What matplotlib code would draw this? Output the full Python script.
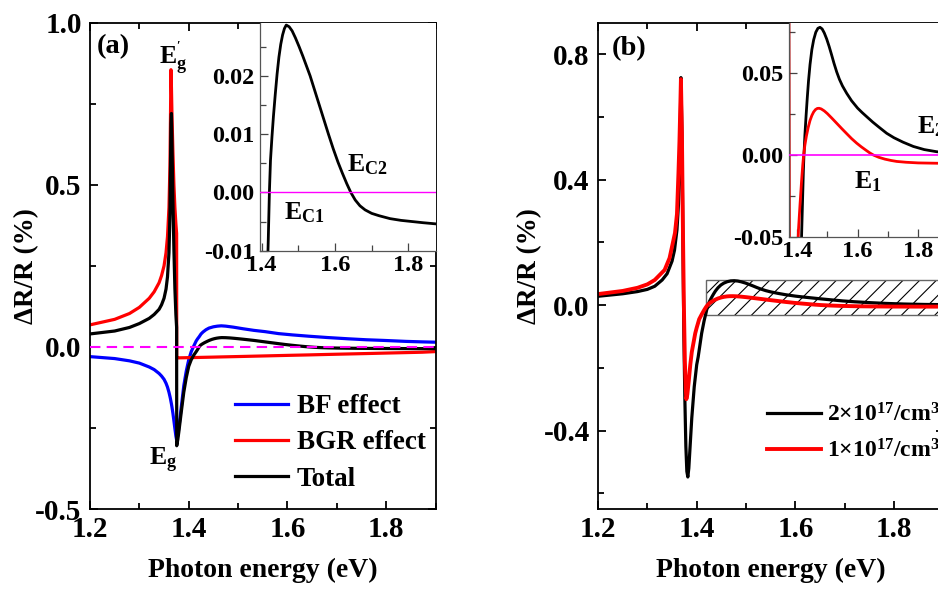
import matplotlib
matplotlib.use('Agg')
import matplotlib.pyplot as plt
from matplotlib.ticker import MultipleLocator, FormatStrFormatter
from matplotlib.patches import Rectangle

plt.rcParams['font.family'] = ['Liberation Serif', 'DejaVu Serif']
plt.rcParams['font.weight'] = 'bold'
plt.rcParams['axes.labelweight'] = 'bold'
plt.rcParams['mathtext.fontset'] = 'custom'
plt.rcParams['mathtext.rm'] = 'Liberation Serif:bold'
plt.rcParams['mathtext.bf'] = 'Liberation Serif:bold'
plt.rcParams['mathtext.it'] = 'Liberation Serif:italic:bold'
plt.rcParams['axes.unicode_minus'] = False
plt.rcParams['hatch.linewidth'] = 0.8

# ---------------- panel (a) data: photon energy (eV) vs dR/R (%) ----------------
energy_a = [1.20, 1.25, 1.28, 1.30, 1.32, 1.33, 1.34, 1.345, 1.35, 1.354, 1.357, 1.36, 1.362, 1.363,
            1.364, 1.365, 1.366, 1.368, 1.370, 1.372, 1.374, 1.3755, 1.3757, 1.378, 1.38, 1.385, 1.39,
            1.395, 1.40, 1.405, 1.41, 1.415, 1.418, 1.421, 1.425, 1.429, 1.435, 1.441, 1.45, 1.458,
            1.466, 1.475, 1.49, 1.51, 1.532, 1.555, 1.582, 1.61, 1.643, 1.68, 1.723, 1.76, 1.795,
            1.84, 1.873, 1.90]
bf_effect = [-0.030, -0.036, -0.043, -0.050, -0.062, -0.070, -0.082, -0.090, -0.100, -0.112, -0.124,
             -0.140, -0.153, -0.160, -0.168, -0.176, -0.185, -0.205, -0.228, -0.252, -0.275, -0.287,
             -0.287, -0.272, -0.250, -0.185, -0.120, -0.075, -0.040, -0.015, 0.002, 0.018, 0.025,
             0.031, 0.040, 0.046, 0.053, 0.058, 0.062, 0.064, 0.065, 0.064, 0.061, 0.056, 0.051,
             0.047, 0.041, 0.037, 0.033, 0.029, 0.025, 0.022, 0.020, 0.017, 0.0155, 0.0145]
bgr_effect = [0.068, 0.085, 0.103, 0.122, 0.150, 0.170, 0.198, 0.220, 0.250, 0.290, 0.340, 0.430,
              0.560, 0.700, 0.855, 0.800, 0.720, 0.600, 0.500, 0.430, 0.380, 0.350, -0.034, -0.0339,
              -0.0338, -0.0336, -0.0335, -0.0333, -0.0331, -0.0330, -0.0328, -0.0327, -0.0326,
              -0.0325, -0.0323, -0.0322, -0.0320, -0.0318, -0.0315, -0.0312, -0.0309, -0.0306,
              -0.0301, -0.0294, -0.0286, -0.0278, -0.0268, -0.0258, -0.0247, -0.0233, -0.0218,
              -0.0205, -0.0192, -0.0176, -0.0164, -0.0145]

energy_tot = [1.20, 1.25, 1.28, 1.30, 1.32, 1.33, 1.34, 1.345, 1.35, 1.354, 1.357, 1.36, 1.362, 1.363,
              1.364, 1.365, 1.366, 1.368, 1.370, 1.372, 1.374, 1.3755, 1.3757, 1.378, 1.38, 1.385,
              1.39, 1.395, 1.40, 1.405, 1.41, 1.415, 1.418, 1.421, 1.424, 1.428, 1.432, 1.437, 1.442,
              1.447, 1.452, 1.457, 1.462, 1.467, 1.475, 1.483, 1.492, 1.502, 1.512, 1.522, 1.532,
              1.545, 1.558, 1.57, 1.582, 1.595, 1.608, 1.62, 1.632, 1.643, 1.655, 1.668, 1.682, 1.70,
              1.72, 1.75, 1.78, 1.81, 1.84, 1.875, 1.90]
total_a = [0.040, 0.049, 0.060, 0.072, 0.088, 0.100, 0.116, 0.130, 0.150, 0.178, 0.216, 0.290, 0.410,
           0.550, 0.690, 0.720, 0.640, 0.450, 0.300, 0.180, 0.100, 0.060, -0.305, -0.285, -0.262,
           -0.200, -0.140, -0.095, -0.060, -0.040, -0.026, -0.015, -0.008, 0.000, 0.0055, 0.0095,
           0.0130, 0.0168, 0.0203, 0.0232, 0.0254, 0.0270, 0.0281, 0.0287, 0.0284, 0.0277, 0.0265,
           0.0250, 0.0234, 0.0217, 0.0200, 0.0174, 0.0148, 0.0124, 0.0100, 0.0075, 0.0052, 0.0033,
           0.0015, 0.0000, -0.0013, -0.0023, -0.0030, -0.0036, -0.0040, -0.0045, -0.0048, -0.0050,
           -0.0052, -0.0054, -0.0055]

# ---------------- panel (b) data: two carrier densities ----------------
energy_b2 = [1.20, 1.25, 1.28, 1.30, 1.315, 1.33, 1.34, 1.35, 1.355, 1.36, 1.363, 1.365, 1.367, 1.368,
             1.370, 1.372, 1.374, 1.376, 1.378, 1.380, 1.382, 1.384, 1.387, 1.39, 1.395, 1.40, 1.403,
             1.41, 1.415, 1.418, 1.421, 1.423, 1.426, 1.43, 1.434, 1.438, 1.443, 1.449, 1.455, 1.462,
             1.469, 1.476, 1.483, 1.49, 1.498, 1.506, 1.514, 1.522, 1.531, 1.54, 1.55, 1.564, 1.58,
             1.60, 1.615, 1.63, 1.65, 1.67, 1.696, 1.72, 1.75, 1.784, 1.82, 1.861, 1.90]
dens_2e17 = [0.028, 0.036, 0.043, 0.050, 0.060, 0.080, 0.100, 0.140, 0.175, 0.240, 0.320, 0.420,
             0.600, 0.725, 0.550, 0.200, -0.100, -0.300, -0.450, -0.530, -0.548, -0.520, -0.440,
             -0.360, -0.260, -0.190, -0.165, -0.090, -0.050, -0.030, -0.010, 0.000, 0.012, 0.024,
             0.035, 0.045, 0.055, 0.064, 0.070, 0.0746, 0.0770, 0.0776, 0.0766, 0.0742, 0.0705,
             0.0660, 0.0610, 0.0558, 0.0505, 0.0460, 0.0420, 0.0375, 0.0330, 0.0285, 0.0258, 0.0233,
             0.0200, 0.0170, 0.0132, 0.0105, 0.0078, 0.0052, 0.0033, 0.0020, 0.0013]
energy_b1 = [1.20, 1.25, 1.28, 1.30, 1.315, 1.335, 1.345, 1.356, 1.36, 1.363, 1.365, 1.367, 1.368,
             1.370, 1.372, 1.374, 1.376, 1.378, 1.379, 1.381, 1.384, 1.387, 1.39, 1.397, 1.40, 1.405,
             1.41, 1.415, 1.419, 1.422, 1.426, 1.431, 1.437, 1.443, 1.449, 1.455, 1.461, 1.467, 1.473,
             1.48, 1.49, 1.50, 1.515, 1.531, 1.548, 1.565, 1.58, 1.597, 1.612, 1.627, 1.64, 1.652,
             1.67, 1.69, 1.71, 1.729, 1.76, 1.80, 1.861, 1.90]
dens_1e17 = [0.035, 0.045, 0.055, 0.066, 0.080, 0.112, 0.150, 0.230, 0.290, 0.420, 0.520, 0.650,
             0.720, 0.550, 0.250, 0.000, -0.180, -0.270, -0.300, -0.285, -0.240, -0.190, -0.150,
             -0.090, -0.072, -0.045, -0.030, -0.016, -0.006, 0.000, 0.006, 0.0115, 0.0168, 0.0210,
             0.0240, 0.0262, 0.0276, 0.0283, 0.0284, 0.0280, 0.0268, 0.0252, 0.0224, 0.0193, 0.0160,
             0.0128, 0.0100, 0.0072, 0.0050, 0.0030, 0.0013, 0.0000, -0.0014, -0.0025, -0.0033,
             -0.0039, -0.0044, -0.0048, -0.0050, -0.0050]

legend_a = ['BF effect', 'BGR effect', 'Total']
legend_b = [r'$\mathbf{2{\times}10^{17}/cm^3}$', r'$\mathbf{1{\times}10^{17}/cm^3}$']

W, H = 938, 590
fig = plt.figure(figsize=(W / 100, H / 100), dpi=100)


def frac(x0, y_top, w, h):
    # pixel box (left, top, width, height) -> figure fraction
    return [x0 / W, (H - y_top - h) / H, w / W, h / H]


def style(ax, xmaj, xmin, ymaj, ymin, fmt_x, fmt_y, size, padx, pady, lw):
    ax.xaxis.set_major_locator(MultipleLocator(xmaj))
    ax.xaxis.set_minor_locator(MultipleLocator(xmin))
    ax.yaxis.set_major_locator(MultipleLocator(ymaj))
    ax.yaxis.set_minor_locator(MultipleLocator(ymin))
    ax.xaxis.set_major_formatter(FormatStrFormatter(fmt_x))
    ax.yaxis.set_major_formatter(FormatStrFormatter(fmt_y))
    ax.tick_params(which='both', direction='in', top=True, right=True, width=lw)
    ax.tick_params(which='major', length=6, labelsize=size)
    ax.tick_params(which='minor', length=4)
    ax.tick_params(axis='x', pad=padx)
    ax.tick_params(axis='y', pad=pady)
    for s in ax.spines.values():
        s.set_linewidth(lw)


# ======================= (a) =======================
ax1 = fig.add_axes(frac(90, 22.7, 345.5, 486.3))
ax1.plot(energy_a, bf_effect, color='blue', lw=2.3, label=legend_a[0])
ax1.plot(energy_a, bgr_effect, color='red', lw=2.3, label=legend_a[1])
ax1.plot(energy_tot, total_a, color='black', lw=2.3, label=legend_a[2])
ax1.axhline(0, color='magenta', lw=1.5, ls=(0, (5, 3)), zorder=3)
ax1.set_xlim(1.2, 1.9)
ax1.set_ylim(-0.5, 1.0)
style(ax1, 0.2, 0.1, 0.5, 0.25, '%.1f', '%.1f', 21, 5, 6, 1.3)
ax1.set_xlabel('Photon energy (eV)', fontsize=20)
ax1.set_ylabel('ΔR/R (%)', fontsize=19.5)
ax1.xaxis.set_label_coords(0.5, -0.101)
ax1.yaxis.set_label_coords(-0.147, 0.5)
ax1.text(1.2142, 0.926, '(a)', fontsize=20.5, ha='left', va='center')
ax1.text(1.368, 0.89, r"$\mathbf{E_g^{'}}$", fontsize=18.5, ha='center', va='center')
ax1.text(1.348, -0.349, r'$\mathbf{E_g}$', fontsize=18.5, ha='center', va='center')
ax1.legend(loc='upper left', bbox_to_anchor=(0.4197, 0.2365), frameon=False, fontsize=19.5,
           handlelength=1.96, handletextpad=0.32, labelspacing=0.42, borderpad=0, borderaxespad=0)

axi1 = fig.add_axes(frac(260, 22.7, 175.5, 228))
axi1.plot(energy_tot, total_a, color='black', lw=2)
axi1.axhline(0, color='magenta', lw=1, zorder=3)
axi1.set_xlim(1.3954, 1.874)
axi1.set_ylim(-0.01, 0.0291)
style(axi1, 0.2, 0.1, 0.01, 0.005, '%.1f', '%.2f', 17.5, 3, 4, 0.9)
axi1.tick_params(which='both', top=False, right=False, color='#444444')
axi1.spines['top'].set_visible(False)
axi1.spines['right'].set_visible(False)
axi1.spines['left'].set_color('#555555')
axi1.spines['bottom'].set_color('#555555')
axi1.text(1.6872, 0.0047, r'$\mathbf{E_{C2}}$', fontsize=18.5, ha='center', va='center')
axi1.text(1.5154, -0.0034, r'$\mathbf{E_{C1}}$', fontsize=18.5, ha='center', va='center')

# ======================= (b) =======================
ax2 = fig.add_axes(frac(598, 22.7, 345.5, 486.3))
ax2.add_patch(Rectangle((1.418, -0.032), 0.6, 0.112, facecolor='none', edgecolor='black',
                        hatch='//', lw=0, zorder=1))
ax2.add_patch(Rectangle((1.418, -0.032), 0.6, 0.112, facecolor='none', edgecolor='#666666',
                        lw=1, zorder=1))
ax2.plot(energy_b2, dens_2e17, color='black', lw=2.3, label=legend_b[0], zorder=2)
ax2.plot(energy_b1, dens_1e17, color='red', lw=2.8, label=legend_b[1], zorder=2)
ax2.set_xlim(1.2, 1.9)
ax2.set_ylim(-0.65, 0.9)
style(ax2, 0.2, 0.1, 0.4, 0.2, '%.1f', '%.1f', 21, 5, 6, 1.3)
ax2.set_xlabel('Photon energy (eV)', fontsize=20)
ax2.set_ylabel('ΔR/R (%)', fontsize=19.5)
ax2.xaxis.set_label_coords(0.5, -0.101)
ax2.yaxis.set_label_coords(-0.163, 0.5)
ax2.text(1.2284, 0.819, '(b)', fontsize=20.5, ha='left', va='center')
ax2.legend(loc='upper left', bbox_to_anchor=(0.488, 0.218), frameon=False, fontsize=17,
           handlelength=2.3, handletextpad=0.25, labelspacing=0.55, borderpad=0, borderaxespad=0)

axi2 = fig.add_axes(frac(789, 22.7, 154.5, 214.6))
axi2.plot(energy_b2, dens_2e17, color='black', lw=2)
axi2.plot(energy_b1, dens_1e17, color='red', lw=2)
axi2.axhline(0, color='magenta', lw=1.2, zorder=3)
axi2.set_xlim(1.3736, 1.8835)
axi2.set_ylim(-0.05, 0.0804)
style(axi2, 0.2, 0.1, 0.05, 0.025, '%.1f', '%.2f', 17.5, 3, 4, 0.9)
axi2.tick_params(which='both', top=False, right=False, color='#444444')
axi2.spines['top'].set_visible(False)
axi2.spines['right'].set_visible(False)
axi2.spines['left'].set_color('#555555')
axi2.spines['bottom'].set_color('#555555')
axi2.text(1.634, -0.0164, r'$\mathbf{E_1}$', fontsize=18.5, ha='center', va='center')
axi2.text(1.795, 0.0175, r'$\mathbf{E_2}$', fontsize=18.5, ha='left', va='center')

fig.savefig('out.png', dpi=100)
